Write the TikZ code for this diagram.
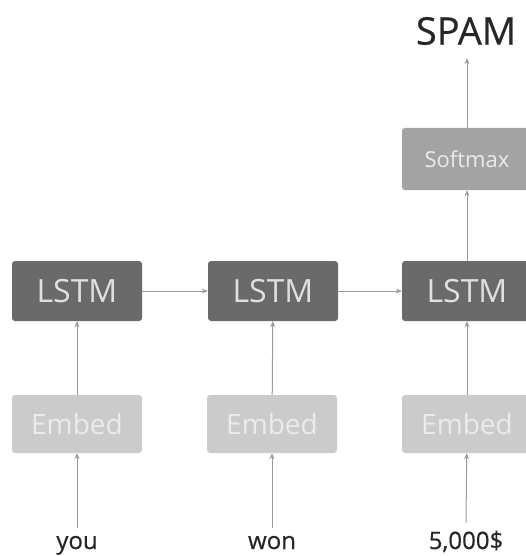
\documentclass[tikz,border=0pt]{standalone}
\usepackage{fontspec}
\setmainfont{Open Sans}
\newfontfamily\heavysans[FakeBold=0.5]{Open Sans}
\usetikzlibrary{arrows.meta}
\definecolor{lstmfill}{HTML}{6A6A6A}
\definecolor{embedfill}{HTML}{CBCBCB}
\definecolor{softfill}{HTML}{A3A3A3}
\definecolor{wire}{HTML}{9A9A9A}
\tikzset{
  box/.style={rounded corners=3pt, minimum width=130pt, inner sep=0pt},
  lstmbox/.style={box, fill=lstmfill, minimum height=60pt, text=white!88!black, font=\fontsize{32}{32}\selectfont},
  embedbox/.style={box, fill=embedfill, minimum height=58pt, text=white!92!black, font=\fontsize{28}{28}\selectfont},
  softbox/.style={box, fill=softfill, minimum height=62pt, text=white!92!black, font=\fontsize{22}{22}\selectfont},
  word/.style={inner sep=0pt, font=\heavysans\fontsize{24}{24}\selectfont, text=black!85},
  link/.style={draw=wire, line width=1pt, -{Stealth[length=6pt,width=5pt]}}
}
\begin{document}
\begin{tikzpicture}[x=1pt,y=-1pt]
  \useasboundingbox[fill=white] (0,0) rectangle (525,556);
  % LSTM chain
  \node[lstmbox] (l1) at (77,291) {LSTM};
  \node[lstmbox] (l2) at (273,291) {LSTM};
  \node[lstmbox] (l3) at (467,291) {LSTM};
  % embedding layers
  \node[embedbox] (e1) at (77,424) {Embed};
  \node[embedbox] (e2) at (272,424) {Embed};
  \node[embedbox] (e3) at (467,424) {Embed};
  % classifier head
  \node[softbox] (s) at (467,159) {Softmax};
  \node[word, font=\heavysans\fontsize{38}{38}\selectfont] (out) at (466,31) {SPAM};
  \coordinate (outtip) at ([yshift=-13pt]out.south);
  % input tokens
  \node[word, anchor=base] (w1) at (77,549) {you};
  \node[word, anchor=base] (w2) at (272,549) {won};
  \node[word, anchor=base] (w3) at (466,549) {5,000\$};
  % connectors
  \draw[link] (l1) -- (l2);
  \draw[link] (l2) -- (l3);
  \draw[link] (e1) -- (l1);
  \draw[link] (e2) -- (l2);
  \draw[link] (e3) -- (l3);
  \draw[link] (w1.north) ++(0,-8) coordinate (w1t) (w1t) -- (e1);
  \draw[link] (w2.north) ++(0,-8) coordinate (w2t) (w2t) -- (e2);
  \draw[link] (w3.north) ++(0,-8) coordinate (w3t) (w3t) -- (e3);
  \draw[link] (l3) -- (s);
  \draw[link] (s) -- (s.north |- outtip);
\end{tikzpicture}
\end{document}
